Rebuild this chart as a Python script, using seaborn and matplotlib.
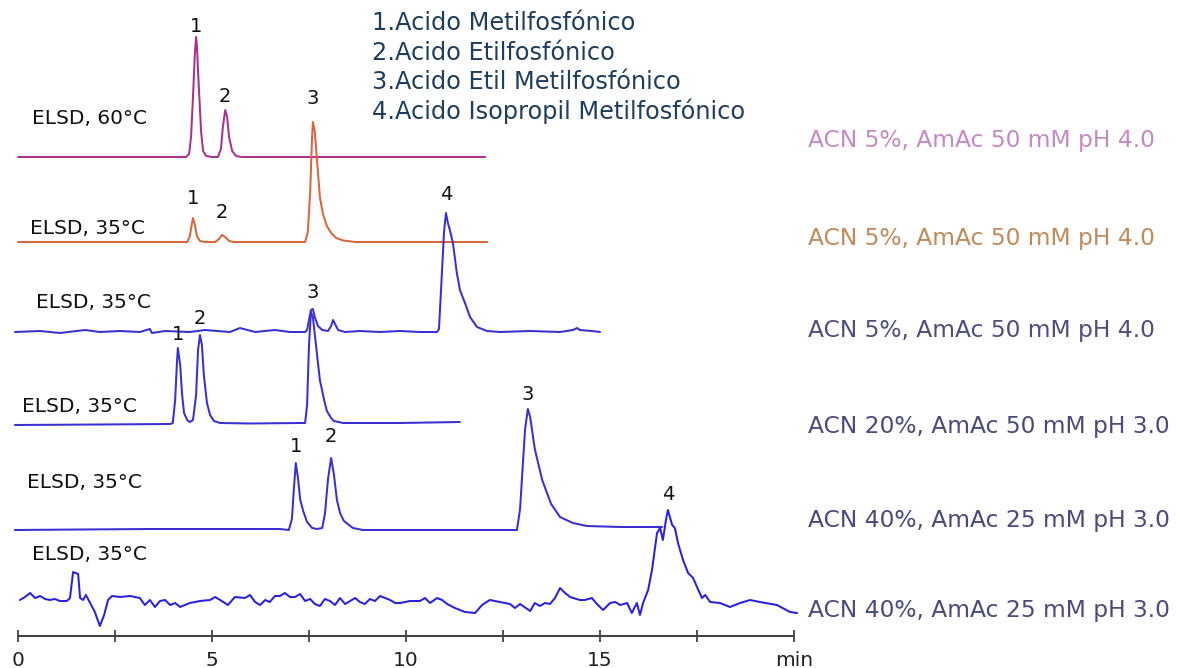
import numpy as np
import pandas as pd
import matplotlib
matplotlib.use("Agg")
import matplotlib.pyplot as plt
import seaborn as sns

# ---------------- data (retention time in min, ELSD signal in a.u.) ----------------
t1 = [0.00, 4.33, 4.41, 4.46, 4.51, 4.56, 4.59, 4.61, 4.66, 4.72, 4.77, 4.85, 5.00,
      5.15, 5.23, 5.28, 5.34, 5.39, 5.44, 5.52, 5.62, 5.77, 12.04]
s1 = [0, 0, 3, 20, 60, 105, 120, 112, 70, 25, 6, 1, 0,
      0, 8, 30, 47, 40, 20, 6, 1, 0, 0]

t2 = [0.00, 4.36, 4.43, 4.48, 4.51, 4.56, 4.61, 4.69, 4.82, 5.08, 5.18, 5.26, 5.34, 5.44,
      5.57, 7.40, 7.47, 7.53, 7.58, 7.60, 7.65, 7.71, 7.78, 7.86, 7.96, 8.07, 8.20, 8.38,
      8.69, 12.09]
s2 = [0, 0, 6, 18, 24, 17, 6, 1, 0, 0, 3, 7, 5, 1,
      0, 0, 10, 50, 105, 120, 110, 80, 45, 28, 16, 9, 4, 1.5,
      0, 0]

t3 = [-0.08, 0.57, 1.08, 1.73, 2.11, 2.63, 3.14, 3.40, 3.45, 3.79, 4.43, 4.82, 5.46, 5.72,
      6.11, 6.62, 7.01, 7.40, 7.45, 7.50, 7.55, 7.60, 7.65, 7.73, 7.84, 7.99, 8.07, 8.12,
      8.17, 8.25, 8.43, 8.81, 9.33, 9.85, 10.36, 10.80, 10.85, 10.90, 10.98, 11.03, 11.08,
      11.13, 11.21, 11.31, 11.39, 11.52, 11.65, 11.83, 12.09, 12.42, 13.20, 13.97, 14.30,
      14.41, 14.48, 14.79, 15.00]
s3 = [0, 1, -1, 2, 0, 1, 0, 3, -1, 1, 0, 2, 0, 4,
      0, 2, 0, 0, 2, 12, 22, 23, 15, 6, 2, 1, 6, 12,
      8, 2, 0, 1, 0, 1, 0, 0, 3, 40, 100, 119, 109,
      102, 89, 59, 42, 29, 15, 5, 1, 0, 1, 0, 2,
      4, 2, 1, 0]

t4 = [-0.08, 2.11, 3.92, 3.99, 4.05, 4.10, 4.12, 4.18, 4.23, 4.28, 4.36, 4.43, 4.51, 4.59,
      4.64, 4.69, 4.74, 4.79, 4.87, 4.95, 5.05, 5.21, 5.98, 7.27, 7.40, 7.45, 7.50, 7.55,
      7.60, 7.68, 7.78, 7.89, 7.96, 8.07, 8.14, 8.38, 9.85, 11.39]
s4 = [0, 0.5, 1, 2, 25, 65, 77, 60, 30, 12, 5, 3, 5, 30,
      75, 90, 80, 50, 22, 10, 4, 2, 1.5, 2, 2, 20, 80, 113,
      108, 80, 45, 25, 14, 7, 4, 2, 2, 3]

t5 = [-0.08, 3.40, 6.75, 6.98, 7.06, 7.11, 7.16, 7.22, 7.27, 7.35, 7.45, 7.58, 7.71, 7.84,
      7.91, 7.99, 8.07, 8.14, 8.22, 8.30, 8.40, 8.63, 8.89, 11.13, 12.86, 12.94, 13.02,
      13.07, 13.14, 13.20, 13.32, 13.51, 13.74, 13.97, 14.30, 14.66, 15.52, 16.60]
s5 = [-1, 0, 0, -1, 10, 40, 66, 50, 30, 18, 7, 1, 0, 1,
      15, 50, 71, 55, 29, 16, 8, 1, -1, -1, -1, 20, 70,
      100, 120, 112, 80, 49, 25, 12, 6, 3, 2, 2]

t6 = [0.05, 0.18, 0.31, 0.44, 0.57, 0.70, 0.82, 0.95, 1.08, 1.26, 1.34, 1.42, 1.55, 1.60,
      1.68, 1.75, 1.86, 1.98, 2.11, 2.22, 2.32, 2.42, 2.63, 2.89, 3.14, 3.27, 3.40, 3.53,
      3.66, 3.79, 3.92, 4.05, 4.18, 4.30, 4.43, 4.69, 4.95, 5.08, 5.21, 5.41, 5.59, 5.85,
      5.98, 6.11, 6.24, 6.37, 6.49, 6.62, 6.75, 6.88, 7.01, 7.14, 7.27, 7.40, 7.53, 7.65,
      7.78, 7.91, 8.04, 8.17, 8.30, 8.43, 8.56, 8.69, 8.81, 8.94, 9.07, 9.20, 9.33, 9.59,
      9.72, 9.85, 10.10, 10.36, 10.49, 10.62, 10.80, 10.93, 11.06, 11.26, 11.52, 11.78,
      11.96, 12.16, 12.42, 12.68, 12.81, 12.94, 13.20, 13.32, 13.45, 13.58, 13.71, 13.84,
      13.97, 14.10, 14.23, 14.48, 14.61, 14.79, 14.92, 15.08, 15.26, 15.39, 15.52, 15.70,
      15.82, 15.95, 16.03, 16.11, 16.24, 16.34, 16.42, 16.47, 16.55, 16.62, 16.70, 16.75,
      16.86, 16.93, 17.01, 17.14, 17.27, 17.40, 17.50, 17.63, 17.71, 17.84, 18.09, 18.35,
      18.61, 18.87, 19.12, 19.56, 19.90, 20.08]
s6 = [3, 6, 10, 5, 7, 4, 3, 4, 2, 2, 5, 31, 29, 5,
      3, 8, 0, -9, -23, -12, 3, 7, 6, 7, 5, -2, 3, -4,
      2, 3, -2, 0, -4, -2, 0, 2, 3, 6, 3, -2, 6, 5,
      8, 1, -2, 3, 1, 7, 7, 10, 6, 6, 9, 2, 4, -1,
      -3, 4, 2, -2, 5, -1, 2, 5, 1, -1, 4, 2, 7, 3,
      0, 0, 2, 2, 5, 0, 5, 3, -1, -5, -9, -10,
      -2, 3, 1, -1, -5, -1, -8, 0, -3, 0, -1, 5,
      15, 10, 6, 3, 3, 5, -1, -7, 0, 1, -2, 0,
      -10, 0, -12, 0, 13, 33, 56, 70, 75, 63, 83, 93,
      78, 75, 60, 43, 30, 25, 16, 5, 8, 1, 0, -4,
      0, 3, 1, -2, -9, -10]

detector_labels = ["ELSD, 60°C", "ELSD, 35°C", "ELSD, 35°C",
                   "ELSD, 35°C", "ELSD, 35°C", "ELSD, 35°C"]
conditions = ["ACN 5%, AmAc 50 mM pH 4.0", "ACN 5%, AmAc 50 mM pH 4.0",
              "ACN 5%, AmAc 50 mM pH 4.0", "ACN 20%, AmAc 50 mM pH 3.0",
              "ACN 40%, AmAc 25 mM pH 3.0", "ACN 40%, AmAc 25 mM pH 3.0"]
compounds = ["1.Acido Metilfosfónico", "2.Acido Etilfosfónico",
             "3.Acido Etil Metilfosfónico", "4.Acido Isopropil Metilfosfónico"]
peak_ids = [["1", "2"], ["1", "2", "3"], ["3", "4"], ["1", "2"], ["1", "2", "3"], ["4"]]
peak_rt = [[4.59, 5.34], [4.51, 5.26, 7.60], [7.60, 11.03], [4.12, 4.69],
           [7.16, 8.07, 13.14], [16.75]]
x_ticks = [0, 2.5, 5, 7.5, 10, 12.5, 15, 17.5, 20]
x_ticklabels = ["0", "", "5", "", "10", "", "15", "", "min"]

times = [t1, t2, t3, t4, t5, t6]
signals = [s1, s2, s3, s4, s5, s6]

# ---------------- layout / style ----------------
W, H = 1189, 668
PX_PER_MIN = 38.8
X0_PX = 18
baseline_px = [157, 242, 332, 425, 529, 603]
offsets = [H - b for b in baseline_px]
line_colors = ["#a8328e", "#d8663c", "#3a2fd4", "#3a2fd4", "#3a2fd4", "#2a20e0"]
cond_colors = ["#c58ac5", "#c08a5a", "#4e4e80", "#4a4a7c", "#4a4a7c", "#4a4a7c"]
peak_pad = [[11, 14], [20, 22, 24], [16, 18], [13, 17], [17, 21, 15], [16]]
det_pos = [(32, 118), (30, 228), (36, 302), (22, 406), (27, 483), (32, 555)]
cond_pos = [(808, 141), (808, 238), (808, 330), (808, 427), (808, 521), (808, 610)]
comp_x, comp_y = 372, [23, 52.5, 82, 111]
axis_y_px = 636

sns.set_theme(style="white")
plt.rcParams["font.family"] = ["DejaVu Sans"]

rows = []
for i, (t, s) in enumerate(zip(times, signals)):
    assert len(t) == len(s), (i, len(t), len(s))
    for tt, ss in zip(t, s):
        rows.append({"trace": i, "time": tt, "y": ss + offsets[i]})
df = pd.DataFrame(rows)

fig = plt.figure(figsize=(W / 100, H / 100), dpi=100)
ax = fig.add_axes([0, 0, 1, 1])
sns.lineplot(data=df, x="time", y="y", hue="trace", palette=line_colors,
             sort=False, estimator=None, legend=False, linewidth=1.45, ax=ax)

ax.set_xlim(-X0_PX / PX_PER_MIN, (W - X0_PX) / PX_PER_MIN)
ax.set_ylim(0, H)

def fx(px):
    return px / W

def fy(py):
    return 1 - py / H

# peak numbers
for i in range(6):
    for pid, rt, pad in zip(peak_ids[i], peak_rt[i], peak_pad[i]):
        apex = np.interp(rt, times[i], signals[i]) + offsets[i]
        ax.text(rt, apex + pad, pid, ha="center", va="center", fontsize=14, color="#111111")

# detector labels (left) and mobile phase conditions (right)
for i in range(6):
    ax.text(fx(det_pos[i][0]), fy(det_pos[i][1]), detector_labels[i], transform=ax.transAxes,
            ha="left", va="center", fontsize=14.5, color="#111111")
    ax.text(fx(cond_pos[i][0]), fy(cond_pos[i][1]), conditions[i], transform=ax.transAxes,
            ha="left", va="center", fontsize=16.8, color=cond_colors[i])

for name, yy in zip(compounds, comp_y):
    ax.text(fx(comp_x), fy(yy), name, transform=ax.transAxes, ha="left", va="center",
            fontsize=17.3, color="#1f3d5c")

# time axis
for side in ["left", "right", "top"]:
    ax.spines[side].set_visible(False)
ax.spines["bottom"].set_position(("data", H - axis_y_px))
ax.spines["bottom"].set_bounds(0, 20)
ax.spines["bottom"].set_color("#444444")
ax.spines["bottom"].set_linewidth(1.5)
ax.set_xticks(x_ticks)
ax.set_xticklabels(x_ticklabels)
ax.tick_params(axis="x", direction="inout", length=9, width=1.3, color="#444444",
               pad=6, labelsize=14.5, labelcolor="#222222", bottom=True)
ax.set_yticks([])
ax.set_xlabel("")
ax.set_ylabel("")

fig.savefig("out.png", dpi=100, facecolor="white")
